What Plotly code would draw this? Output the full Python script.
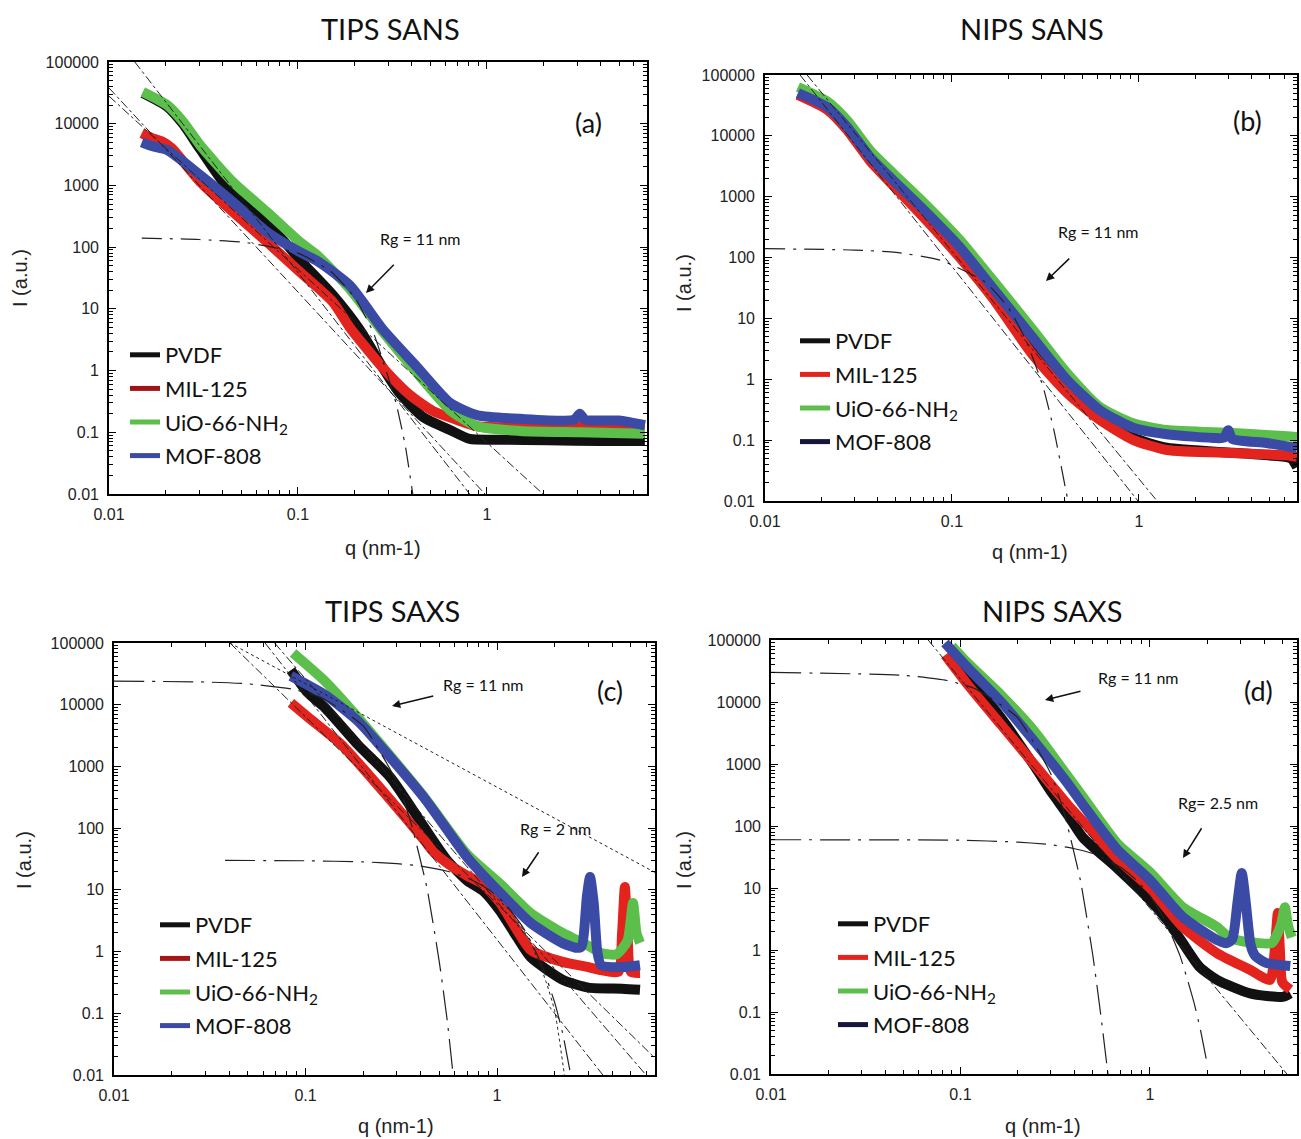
import plotly.graph_objects as go

W, H = 1301, 1139

# ---------------- DATA ----------------
# Panel (a) TIPS SANS
qa_pvdf = [0.0151, 0.0203, 0.0247, 0.0303, 0.0453, 0.0686, 0.1025, 0.153, 0.213, 0.282, 0.345, 0.46, 0.637, 0.81, 1.2, 2.1, 4.0, 6.85]
Ia_pvdf = [31500, 19000, 9800, 3900, 698, 255, 61.8, 16.7, 4.53, 1.10, 0.43, 0.176, 0.109, 0.078, 0.076, 0.074, 0.072, 0.072]
qa_mil = [0.0149, 0.017, 0.019, 0.0215, 0.0303, 0.0453, 0.0686, 0.1025, 0.153, 0.188, 0.282, 0.392, 0.519, 0.69, 0.885, 1.5, 3.0, 6.85]
Ia_mil = [7000, 5800, 5200, 4000, 1150, 371, 121, 39.5, 12.9, 5.0, 1.1, 0.40, 0.22, 0.16, 0.125, 0.12, 0.125, 0.12]
qa_uio = [0.0151, 0.0203, 0.0247, 0.0303, 0.0453, 0.0686, 0.1025, 0.126, 0.188, 0.282, 0.427, 0.637, 0.885, 1.5, 3.1, 6.85]
Ia_uio = [32700, 20100, 10700, 4520, 1135, 371, 121, 74.5, 21, 4.2, 0.91, 0.229, 0.125, 0.105, 0.10, 0.095]
qa_mof = [0.0149, 0.017, 0.0203, 0.0303, 0.0453, 0.0686, 0.1025, 0.126, 0.188, 0.282, 0.427, 0.637, 0.885, 1.5, 2.9, 3.1, 3.3, 5.0, 6.85]
Ia_mof = [5000, 4300, 3740, 1480, 537, 176, 83, 60, 24, 4.6, 1.14, 0.30, 0.19, 0.165, 0.16, 0.20, 0.16, 0.155, 0.13]

# fit curves (a)
ga_q = [0.0149, 0.03, 0.054, 0.1, 0.15, 0.2, 0.25, 0.287, 0.33, 0.37, 0.405]
ga_I = [140, 133, 118, 80, 40, 15, 4.2, 1.2, 0.3, 0.06, 0.01]
pa1_q, pa1_I = [0.0137, 0.81], [100000, 0.01]
pa2_q, pa2_I = [0.0100, 0.976], [38000, 0.01]
pa3_q, pa3_I = [0.0100, 1.98], [28000, 0.01]

# Panel (b) NIPS SANS
qb = [0.015, 0.0215, 0.0275, 0.0364, 0.0483, 0.0734, 0.110, 0.166, 0.271, 0.412, 0.618, 0.929, 1.41, 3.18, 5.0, 6.5, 7.0]
Ib_pvdf = [48000, 28000, 13000, 4100, 1650, 450, 115, 24, 3.1, 0.70, 0.24, 0.11, 0.075, 0.062, 0.056, 0.05, 0.036]
Ib_mil = [47000, 27000, 12500, 3900, 1550, 400, 100, 21, 2.5, 0.60, 0.214, 0.101, 0.069, 0.0615, 0.058, 0.055, 0.053]
Ib_uio = [63500, 37000, 18000, 5800, 2450, 710, 195, 42, 6.5, 1.27, 0.35, 0.19, 0.147, 0.131, 0.12, 0.115, 0.113]
qb_mof = [0.015, 0.0215, 0.0275, 0.0364, 0.0483, 0.0734, 0.110, 0.166, 0.271, 0.412, 0.618, 0.929, 1.41, 2.6, 2.85, 3.0, 3.15, 4.8, 7.0]
Ib_mof = [50600, 29800, 14000, 4500, 1885, 541, 149, 31, 4.8, 0.98, 0.31, 0.16, 0.125, 0.108, 0.11, 0.145, 0.105, 0.09, 0.074]

gb_q = [0.01, 0.03, 0.05, 0.0862, 0.15, 0.2, 0.25, 0.307, 0.35, 0.417]
gb_I = [140, 133, 122, 91, 40, 15, 4.2, 0.75, 0.15, 0.01]
pb1_q, pb1_I = [0.0154, 0.988], [100000, 0.01]
pb2_q, pb2_I = [0.0168, 1.25], [100000, 0.01]

# Panel (c) TIPS SAXS
qc_pvdf = [0.0839, 0.103, 0.1265, 0.188, 0.279, 0.42, 0.55, 0.7, 0.85, 1.04, 1.27, 1.5, 2.2, 3.0, 4.5, 5.58]
Ic_pvdf = [36500, 15500, 8900, 2240, 650, 100, 30, 14, 9.5, 4.5, 1.72, 0.81, 0.35, 0.26, 0.25, 0.24]
qc_mil = [0.0839, 0.103, 0.153, 0.21, 0.311, 0.42, 0.463, 0.55, 0.697, 0.843, 1.04, 1.27, 1.5, 2.2, 3.0, 3.5, 4.3, 4.5, 4.65, 4.8, 5.0, 5.58]
Ic_mil = [10700, 6300, 2300, 780, 190, 62, 42, 27, 17, 12.5, 6.1, 2.24, 1.06, 0.68, 0.56, 0.5, 0.47, 2.0, 11.1, 2.0, 0.47, 0.45]
qc_uio = [0.0861, 0.1265, 0.188, 0.23, 0.279, 0.42, 0.697, 1.04, 1.5, 2.2, 2.6, 3.06, 3.5, 4.2, 4.8, 5.13, 5.35, 5.58]
Ic_uio = [68900, 24000, 6200, 2950, 1450, 310, 38, 12.5, 4.2, 2.0, 1.55, 1.2, 0.95, 0.9, 1.5, 6.1, 2.0, 1.38]
qc_mof = [0.0839, 0.1265, 0.188, 0.279, 0.42, 0.697, 1.04, 1.5, 2.2, 2.6, 2.76, 2.95, 3.06, 3.2, 3.34, 3.5, 4.5, 5.58]
Ic_mof = [29200, 14400, 5440, 1370, 300, 34, 8.9, 2.9, 1.37, 1.15, 1.2, 8.0, 16.1, 6.0, 1.0, 0.6, 0.56, 0.6]

gc1_q = [0.01, 0.03, 0.05, 0.085, 0.12, 0.2, 0.3, 0.352, 0.43, 0.5, 0.55, 0.59]
gc1_I = [24200, 23300, 21800, 17900, 13200, 4530, 558, 135, 11, 0.67, 0.075, 0.01]
gc2_q = [0.038, 0.1, 0.2, 0.3, 0.4, 0.55, 0.7, 0.9, 1.1, 1.4, 1.7, 2.0, 2.2, 2.4]
gc2_I = [30, 29.6, 28.4, 26.6, 24.3, 20, 15.6, 10.2, 6.0, 2.2, 0.64, 0.15, 0.048, 0.012]
gc3_q = [0.9, 1.2, 1.5, 1.8, 2.0, 2.25]
gc3_I = [9.5, 4.2, 1.4, 0.33, 0.11, 0.01]
pc1_q, pc1_I = [0.0403, 6.76], [100000, 18.8]
pc2_q, pc2_I = [0.0615, 3.57], [100000, 0.01]
pc3_q, pc3_I = [0.0403, 6.6], [100000, 0.0195]
pc4_q, pc4_I = [0.069, 6.0], [100000, 0.01]

# Panel (d) NIPS SAXS
qd_pvdf = [0.088, 0.1096, 0.164, 0.247, 0.2965, 0.369, 0.443, 0.67, 1.0, 1.23, 1.49, 1.83, 2.26, 3.37, 5.0, 5.5]
Id_pvdf = [45000, 25000, 5500, 900, 380, 150, 65, 21, 6.4, 3.05, 1.3, 0.53, 0.33, 0.2, 0.175, 0.2]
qd_mil = [0.083, 0.1096, 0.164, 0.247, 0.369, 0.443, 0.67, 1.0, 1.49, 2.26, 3.37, 4.3, 4.6, 4.73, 4.85, 5.0, 5.5]
Id_mil = [57200, 18800, 4270, 955, 218, 119, 30, 10, 2.35, 0.89, 0.48, 0.33, 1.5, 3.95, 1.0, 0.3, 0.23]
qd_uio = [0.09, 0.1096, 0.164, 0.247, 0.369, 0.443, 0.67, 1.0, 1.49, 2.26, 2.6, 3.0, 3.65, 4.4, 4.9, 5.15, 5.35, 5.6]
Id_uio = [80000, 42000, 12900, 3300, 627, 293, 53, 18, 4.9, 2.35, 1.62, 1.4, 1.3, 1.3, 2.5, 4.9, 2.5, 1.6]
qd_mof = [0.0828, 0.1096, 0.164, 0.247, 0.369, 0.443, 0.67, 1.0, 1.49, 2.26, 2.54, 2.72, 2.9, 3.05, 3.2, 3.4, 3.6, 4.1, 5.5]
Id_mof = [89600, 35300, 10000, 2260, 480, 220, 42, 13.5, 3.4, 1.45, 1.29, 1.5, 6.0, 17.5, 6.0, 1.2, 0.8, 0.62, 0.55]

gd1_q = [0.01, 0.05, 0.085, 0.12, 0.2, 0.3, 0.352, 0.43, 0.5, 0.55, 0.6]
gd1_I = [30000, 27000, 22200, 16300, 5600, 690, 165, 13, 0.8, 0.09, 0.01]
gd2_q = [0.01, 0.1, 0.2, 0.3, 0.4, 0.5, 0.59, 0.7, 0.85, 1.0, 1.2, 1.44, 1.7, 1.85, 2.0]
gd2_I = [60, 59, 55, 50, 43, 36, 29, 21.6, 13.3, 7.5, 3.0, 0.81, 0.15, 0.05, 0.015]
pd1_q, pd1_I = [0.0675, 5.28], [100000, 0.01]

# tick labels
x_tickvals = [0.01, 0.1, 1]
x_ticktext = ["0.01", "0.1", "1"]
y_tickvals = [0.01, 0.1, 1, 10, 100, 1000, 10000, 100000]
y_ticktext = ["0.01", "0.1", "1", "10", "100", "1000", "10000", "100000"]

series_names = ["PVDF", "MIL-125", "UiO-66-NH<sub>2</sub>", "MOF-808"]
panel_titles = ["TIPS SANS", "NIPS SANS", "TIPS SAXS", "NIPS SAXS"]

# ---------------- STYLE ----------------
C_BLACK = "#111111"
C_RED = "#e3231d"
C_GREEN = "#5cbf4b"
C_BLUE = "#3a4aa5"
FIT = "#222222"

def px(x, y):
    return x / W, 1 - y / H

# panel geometry (pixels): left, right, top, bottom, xmax(log)
panels = [
    (109, 647, 62, 494, 0.847),
    (765, 1297, 75, 501, 0.845),
    (114, 655, 643, 1075, 0.825),
    (771, 1297, 640, 1074, 0.776),
]

minor_x = [m * 10 ** e for e in (-2, -1, 0) for m in range(2, 10)]
minor_y = [m * 10 ** e for e in range(-2, 5) for m in range(2, 10)]

fig = go.Figure()
layout = dict(width=W, height=H, margin=dict(l=0, r=0, t=0, b=0, pad=0, autoexpand=False),
              paper_bgcolor="white", plot_bgcolor="white", showlegend=True)

tickfont = dict(family="Liberation Sans, Arial", size=16, color="#222")
for i, (l, r, t, b, xmax) in enumerate(panels):
    k = "" if i == 0 else str(i + 1)
    common = dict(type="log", showline=True, linecolor="black", linewidth=1.6,
                  mirror="ticks", ticks="inside", ticklen=7, tickwidth=1.3, tickcolor="black",
                  showgrid=False, zeroline=False, tickfont=tickfont, ticklabelstandoff=5,
                  automargin=False)
    layout["xaxis" + k] = dict(common, domain=[l / W, r / W], range=[-2, xmax],
                               anchor="y" + k, tickmode="array", tickvals=x_tickvals, ticktext=x_ticktext,
                               minor=dict(tickmode="array", tickvals=minor_x, ticks="inside",
                                          ticklen=4, tickcolor="black", showgrid=False))
    layout["yaxis" + k] = dict(common, domain=[1 - b / H, 1 - t / H], range=[-2, 5],
                               anchor="x" + k, tickmode="array", tickvals=y_tickvals, ticktext=y_ticktext,
                               minor=dict(tickmode="array", tickvals=minor_y, ticks="inside",
                                          ticklen=4, tickcolor="black", showgrid=False))

def data_trace(q, I, color, ax):
    xa = "x" if ax == 1 else "x%d" % ax
    ya = "y" if ax == 1 else "y%d" % ax
    fig.add_trace(go.Scatter(x=q, y=I, mode="lines", line=dict(color=color, width=10, shape="spline", smoothing=0.6),
                             xaxis=xa, yaxis=ya, showlegend=False, hoverinfo="skip"))

def fit_trace(q, I, ax, dash="dashdot", width=1.0):
    xa = "x" if ax == 1 else "x%d" % ax
    ya = "y" if ax == 1 else "y%d" % ax
    fig.add_trace(go.Scatter(x=q, y=I, mode="lines", line=dict(color=FIT, width=width, dash=dash, shape="spline", smoothing=0.5),
                             xaxis=xa, yaxis=ya, showlegend=False, hoverinfo="skip"))

# panel a
data_trace(qa_pvdf, Ia_pvdf, C_BLACK, 1)
data_trace(qa_mil, Ia_mil, C_RED, 1)
data_trace(qa_uio, Ia_uio, C_GREEN, 1)
data_trace(qa_mof, Ia_mof, C_BLUE, 1)
fit_trace(ga_q, ga_I, 1, dash="20px,8px,3px,8px", width=1.2)
fit_trace(pa1_q, pa1_I, 1)
fit_trace(pa2_q, pa2_I, 1)
fit_trace(pa3_q, pa3_I, 1)

# panel b
data_trace(qb, Ib_pvdf, C_BLACK, 2)
data_trace(qb, Ib_mil, C_RED, 2)
data_trace(qb, Ib_uio, C_GREEN, 2)
data_trace(qb_mof, Ib_mof, C_BLUE, 2)
fit_trace(gb_q, gb_I, 2, dash="20px,8px,3px,8px", width=1.2)
fit_trace(pb1_q, pb1_I, 2)
fit_trace(pb2_q, pb2_I, 2)

# panel c
data_trace(qc_pvdf, Ic_pvdf, C_BLACK, 3)
data_trace(qc_mil, Ic_mil, C_RED, 3)
data_trace(qc_uio, Ic_uio, C_GREEN, 3)
data_trace(qc_mof, Ic_mof, C_BLUE, 3)
fit_trace(gc1_q, gc1_I, 3, dash="30px,8px,3px,8px", width=1.2)
fit_trace(gc2_q, gc2_I, 3, dash="30px,8px,3px,8px", width=1.2)
fit_trace(gc3_q, gc3_I, 3, dash="dot")
fit_trace(pc1_q, pc1_I, 3, dash="dot")
fit_trace(pc2_q, pc2_I, 3)
fit_trace(pc3_q, pc3_I, 3)
fit_trace(pc4_q, pc4_I, 3)

# panel d
data_trace(qd_pvdf, Id_pvdf, C_BLACK, 4)
data_trace(qd_mil, Id_mil, C_RED, 4)
data_trace(qd_uio, Id_uio, C_GREEN, 4)
data_trace(qd_mof, Id_mof, C_BLUE, 4)
fit_trace(gd1_q, gd1_I, 4, dash="30px,8px,3px,8px", width=1.2)
fit_trace(gd2_q, gd2_I, 4, dash="30px,8px,3px,8px", width=1.2)
fit_trace(pd1_q, pd1_I, 4)

# legends (one per panel)
legend_colors = [
    [C_BLACK, "#9e1414", C_GREEN, C_BLUE],
    [C_BLACK, C_RED, C_GREEN, "#15163a"],
    [C_BLACK, "#a51616", C_GREEN, C_BLUE],
    [C_BLACK, C_RED, C_GREEN, "#161640"],
]
legend_pos = [(125, 334), (795, 320), (155, 904), (833, 903)]
for i in range(4):
    lk = "legend" if i == 0 else "legend%d" % (i + 1)
    for j, name in enumerate(series_names):
        fig.add_trace(go.Scatter(x=[None], y=[None], mode="lines", name=name,
                                 line=dict(color=legend_colors[i][j], width=5),
                                 legend=lk, legendgroup="g%d_%d" % (i, j),
                                 xaxis="x" if i == 0 else "x%d" % (i + 1),
                                 yaxis="y" if i == 0 else "y%d" % (i + 1)))
    lx, ly = px(*legend_pos[i])
    layout[lk] = dict(x=lx, y=ly, xanchor="left", yanchor="top", bgcolor="rgba(0,0,0,0)",
                      font=dict(family="Lato, Noto Sans", size=22, color="#111"),
                      tracegroupgap=2, traceorder="grouped", itemclick=False)

ann = []

def text_ann(t, x, y, size, family="Lato, Noto Sans", angle=0, color="#111"):
    X, Y = px(x, y)
    ann.append(dict(x=X, y=Y, xref="paper", yref="paper", xanchor="center", yanchor="middle",
                    text=t, showarrow=False, textangle=angle,
                    font=dict(family=family, size=size, color=color)))

title_pos = [(390, 28), (1032, 28), (392, 610), (1052, 610)]
for name, (x, y) in zip(panel_titles, title_pos):
    text_ann(name, x, y, 29)

ylab_pos = [(20, 278), (684, 283), (24, 860), (684, 860)]
xlab_pos = [(383, 548), (1030, 552), (396, 1126), (1043, 1126)]
for (x, y) in ylab_pos:
    text_ann("I (a.u.)", x, y, 20, family="Liberation Sans, Arial", angle=-90, color="#222")
for (x, y) in xlab_pos:
    text_ann("q (nm-1)", x, y, 20, family="Liberation Sans, Arial", color="#222")

letters = [("(a)", 588, 122), ("(b)", 1247, 120), ("(c)", 610, 690), ("(d)", 1258, 690)]
for t, x, y in letters:
    text_ann(t, x, y, 27)

# Rg labels with arrows: (text, text x, text y, arrow head x, arrow head y, gap from text box)
rg_labels = [("Rg = 11 nm", 420, 238, 366, 293, 22),
             ("Rg = 11 nm", 1098, 231, 1046, 281, 24),
             ("Rg = 11 nm", 483, 684, 392, 706, 8),
             ("Rg = 2 nm", 555, 828, 522, 877, 16),
             ("Rg = 11 nm", 1138, 677, 1045, 700, 16),
             ("Rg= 2.5 nm", 1218, 802, 1183, 858, 18)]
for t, tx, ty, hx, hy, gap in rg_labels:
    X, Y = px(hx, hy)
    ann.append(dict(x=X, y=Y, xref="paper", yref="paper", text=t, showarrow=True,
                    ax=tx - hx, ay=ty - hy, arrowhead=2, arrowsize=1.1, arrowwidth=1.5,
                    arrowcolor="#111", startstandoff=gap,
                    font=dict(family="Lato, Noto Sans", size=16, color="#111")))

layout["annotations"] = ann
fig.update_layout(**layout)
fig.write_html("out.html", config={"displayModeBar": False},
               post_script="document.body.style.margin='0px';document.body.style.overflow='hidden';")
